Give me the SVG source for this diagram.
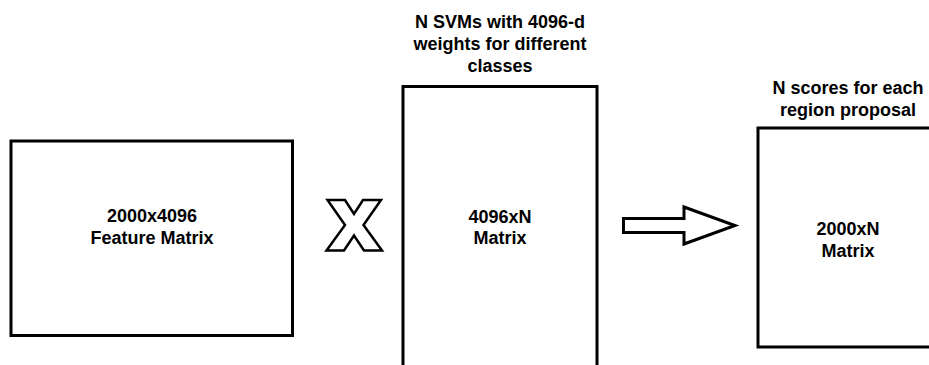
<svg xmlns="http://www.w3.org/2000/svg" width="929" height="365" viewBox="0 0 929 365">
<style>
.box{fill:#fff;stroke:#000;stroke-width:3}
.t{font-family:"Liberation Sans",Arial,sans-serif;font-weight:bold;font-size:18px;fill:#000;text-anchor:middle}
.shape{fill:#fff;stroke:#000;stroke-linejoin:miter}
</style>
<rect width="929" height="365" fill="#fff"/>
<g id="feature-matrix">
<rect class="box" x="11" y="141" width="281.5" height="194.5"/>
<text class="t" x="152" y="222">2000x4096</text>
<text class="t" x="152" y="243.5">Feature Matrix</text>
</g>
<g id="multiply">
<polygon class="shape" stroke-width="2.5" points="327.5,200 345,200 354,214 363,200 381,200 363.5,225 382,250.5 364,250.5 354,235.5 344,250.5 326.5,250.5 345,225"/>
</g>
<g id="svm-matrix">
<text class="t" x="500" y="27.5">N SVMs with 4096-d</text>
<text class="t" x="500" y="49.5">weights for different</text>
<text class="t" x="500" y="71.5">classes</text>
<rect class="box" x="403" y="86.5" width="194" height="300"/>
<text class="t" x="500" y="222.5">4096xN</text>
<text class="t" x="500" y="244">Matrix</text>
</g>
<g id="connectors">
<polygon class="shape" stroke-width="3" points="623.5,218.5 684,218.5 684,207 735,225.5 684,244 684,232.5 623.5,232.5"/>
</g>
<g id="score-matrix">
<text class="t" x="848" y="94">N scores for each</text>
<text class="t" x="848" y="115.5">region proposal</text>
<rect class="box" x="758" y="128" width="180" height="219"/>
<text class="t" x="848" y="235">2000xN</text>
<text class="t" x="848" y="257">Matrix</text>
</g>
</svg>
